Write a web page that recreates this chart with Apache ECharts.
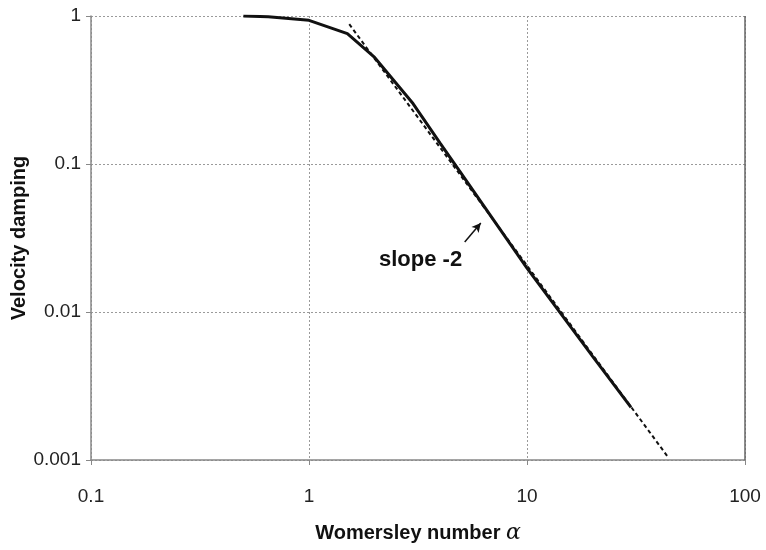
<!DOCTYPE html>
<html>
<head>
<meta charset="utf-8">
<script src="https://cdn.jsdelivr.net/npm/echarts@6/dist/echarts.min.js"></script>
<style>
  html, body { margin: 0; padding: 0; background: #fff; }
  #chart { width: 766px; height: 550px; }
</style>
</head>
<body>
<div id="chart"></div>
<script>
// Velocity damping against Womersley number (log-log)
const alphaValues   = [0.5, 0.65, 1, 1.5, 2, 3, 4, 5, 10, 20, 30];
const dampingValues = [1.0, 0.99, 0.935, 0.76, 0.525, 0.256, 0.138, 0.086, 0.0198, 0.00502, 0.00227];

// Asymptote with slope -2
const asymAlpha   = [1.53, 44.7];
const asymDamping = [0.88, 0.00103];

// Annotation: label position and arrow from tail to head
const noteText  = 'slope -2';
const notePos   = [3.25, 0.0225];
const arrowFrom = [5.18, 0.0297];
const arrowTo   = [6.14, 0.0399];

const xTicks = [0.1, 1, 10, 100];
const yTicks = [0.001, 0.01, 0.1, 1];

const FONT = '"Liberation Sans", Arial, sans-serif';

const chart = echarts.init(document.getElementById('chart'));

const solid = alphaValues.map((a, i) => [a, dampingValues[i]]);
const dashed = asymAlpha.map((a, i) => [a, asymDamping[i]]);

const gridLine = { show: true, lineStyle: { color: '#9a9a9a', type: [2, 2], width: 1 } };
const fmt = v => String(+v.toPrecision(3));

chart.setOption({
  animation: false,
  backgroundColor: '#fff',
  grid: { left: 91, right: 21, top: 16, bottom: 90, outerBoundsMode: 'none', containLabel: false },
  xAxis: {
    type: 'log', logBase: 10, min: xTicks[0], max: xTicks[xTicks.length - 1],
    name: '{t|Womersley number }{a|α}',
    nameLocation: 'middle', nameGap: 62, nameMoveOverlap: false,
    nameTextStyle: {
      rich: {
        t: { fontFamily: FONT, fontWeight: 'bold', fontSize: 20, color: '#111' },
        a: { fontFamily: '"DejaVu Serif", serif', fontStyle: 'italic', fontSize: 22, color: '#111' }
      }
    },
    axisLine: { show: true, lineStyle: { color: '#888', width: 1.5 } },
    axisTick: { show: true, inside: false, length: 5, lineStyle: { color: '#888' } },
    axisLabel: { fontFamily: FONT, fontSize: 19, color: '#222', margin: 27, formatter: fmt },
    splitLine: gridLine
  },
  yAxis: {
    type: 'log', logBase: 10, min: yTicks[0], max: yTicks[yTicks.length - 1],
    name: 'Velocity damping',
    nameLocation: 'middle', nameGap: 62, nameRotate: 90, nameMoveOverlap: false,
    nameTextStyle: { fontFamily: FONT, fontWeight: 'bold', fontSize: 20, color: '#111' },
    axisLine: { show: true, lineStyle: { color: '#888', width: 1.5 } },
    axisTick: { show: true, inside: false, length: 5, lineStyle: { color: '#888' } },
    axisLabel: { fontFamily: FONT, fontSize: 19, color: '#222', margin: 10, formatter: fmt },
    splitLine: gridLine
  },
  series: [
    {
      // right-hand frame edge at the top of the x range
      type: 'line',
      data: [[xTicks[xTicks.length - 1], yTicks[0]], [xTicks[xTicks.length - 1], yTicks[yTicks.length - 1]]],
      symbol: 'none', silent: true,
      lineStyle: { color: '#666', width: 1.5 }, z: 1
    },
    {
      type: 'line', data: dashed, symbol: 'none',
      lineStyle: { color: '#111', width: 2, type: [4, 3] }, z: 3
    },
    {
      type: 'line', data: solid, symbol: 'none',
      lineStyle: { color: '#111', width: 3 }, z: 4,
      markLine: {
        silent: true, symbol: ['none', 'arrow'], symbolSize: [7, 9],
        lineStyle: { color: '#111', width: 1.5, type: 'solid' },
        label: { show: false },
        data: [[{ coord: arrowFrom }, { coord: arrowTo }]]
      },
      markPoint: {
        silent: true, symbol: 'circle', symbolSize: 0,
        label: { show: true, position: 'inside', formatter: noteText,
          fontFamily: FONT, fontWeight: 'bold', fontSize: 22, color: '#111' },
        data: [{ coord: notePos }]
      }
    }
  ]
});
</script>
</body>
</html>
